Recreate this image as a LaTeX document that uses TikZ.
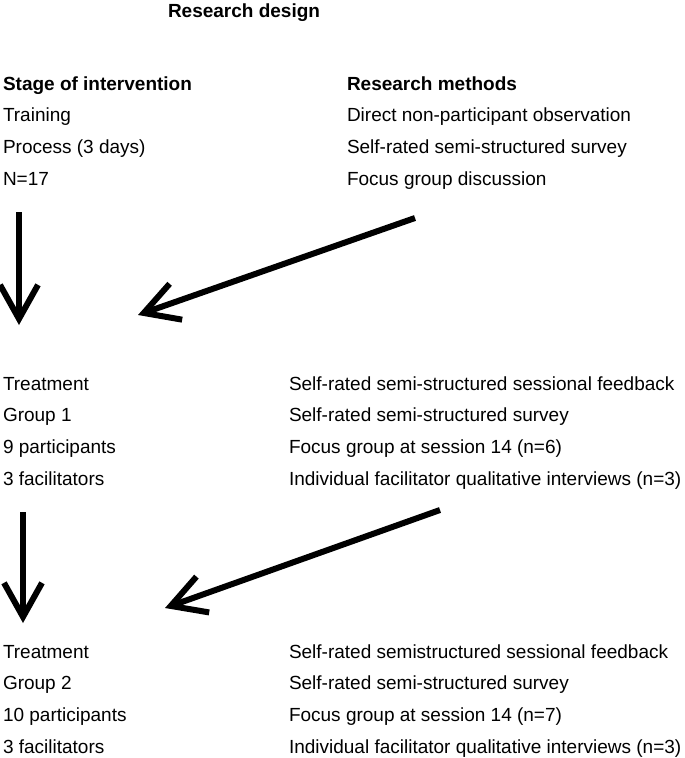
\documentclass[tikz,border=0pt]{standalone}
\usepackage{fontspec}
\setmainfont{Liberation Sans}
\usetikzlibrary{arrows.meta}
\newdimen\rowDist
\rowDist=31.7pt

\begin{document}
\begin{tikzpicture}[
    x=1pt, y=-1pt,
    txt/.style={%
      anchor=base west,
      inner sep=0pt,
      outer sep=0pt,
      font=\fontsize{19}{22}\selectfont,
    },
    hdr/.style={%
      txt,
      font=\fontsize{19}{22}\selectfont\bfseries,
    },
    flow/.style={%
      line width=6pt,
      -{Straight Barb[length=34pt,width=38pt]},
    },
  ]
    \useasboundingbox (0,0) rectangle (685,758);

    \node [hdr] (title) at (168,17) {Research design};

    \node [hdr] (stage) at (3,90) {Stage of intervention};
    \path (stage.base west) ++(-90:\rowDist) node [txt] (train) {Training};
    \path (train.base west) ++(-90:\rowDist) node [txt] (process) {Process (3 days)};
    \path (process.base west) ++(-90:\rowDist) node [txt] (total) {N=17};

    \node [hdr] (methods) at (347,90) {Research methods};
    \path (methods.base west) ++(-90:\rowDist) node [txt] (observ) {Direct non-participant observation};
    \path (observ.base west) ++(-90:\rowDist) node [txt] (survey) {Self-rated semi-structured survey};
    \path (survey.base west) ++(-90:\rowDist) node [txt] (focus) {Focus group discussion};

    \node [txt] (treatA) at (3,390) {Treatment};
    \path (treatA.base west) ++(-90:\rowDist) node [txt] (groupA) {Group 1};
    \path (groupA.base west) ++(-90:\rowDist) node [txt] (partA) {9 participants};
    \path (partA.base west) ++(-90:\rowDist) node [txt] (facilA) {3 facilitators};

    \node [txt] (feedA) at (289,390) {Self-rated semi-structured sessional feedback};
    \path (feedA.base west) ++(-90:\rowDist) node [txt] (surveyA) {Self-rated semi-structured survey};
    \path (surveyA.base west) ++(-90:\rowDist) node [txt] (focusA) {Focus group at session 14 (n=6)};
    \path (focusA.base west) ++(-90:\rowDist) node [txt] (interA) {Individual facilitator qualitative interviews (n=3)};

    \node [txt] (treatB) at (3,658) {Treatment};
    \path (treatB.base west) ++(-90:\rowDist) node [txt] (groupB) {Group 2};
    \path (groupB.base west) ++(-90:\rowDist) node [txt] (partB) {10 participants};
    \path (partB.base west) ++(-90:\rowDist) node [txt] (facilB) {3 facilitators};

    \node [txt] (feedB) at (289,658) {Self-rated semistructured sessional feedback};
    \path (feedB.base west) ++(-90:\rowDist) node [txt] (surveyB) {Self-rated semi-structured survey};
    \path (surveyB.base west) ++(-90:\rowDist) node [txt] (focusB) {Focus group at session 14 (n=7)};
    \path (focusB.base west) ++(-90:\rowDist) node [txt] (interB) {Individual facilitator qualitative interviews (n=3)};

    \coordinate (stageTop) at (19,212);
    \coordinate (stageEnd) at (19,325);
    \coordinate (methTop) at (415,218);
    \coordinate (methEnd) at (138,315);
    \coordinate (groupTop) at (23,512);
    \coordinate (groupEnd) at (23,623);
    \coordinate (methTopA) at (440,510);
    \coordinate (methEndA) at (165,608);

    \draw [flow] (stageTop) -- (stageEnd);
    \draw [flow] (methTop) -- (methEnd);
    \draw [flow] (groupTop) -- (groupEnd);
    \draw [flow] (methTopA) -- (methEndA);
\end{tikzpicture}
\end{document}
